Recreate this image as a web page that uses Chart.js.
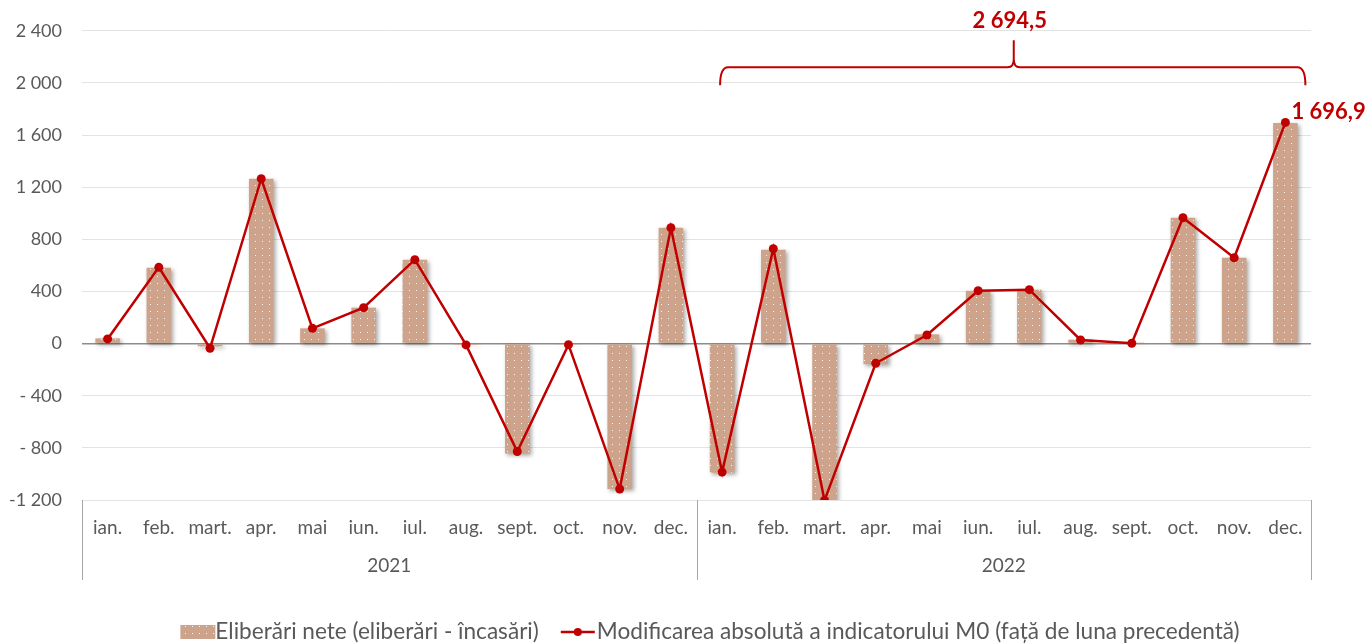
<!DOCTYPE html>
<html>
<head>
<meta charset="utf-8">
<script src="https://cdn.jsdelivr.net/npm/chart.js@4"></script>
<style>
  html, body { margin: 0; padding: 0; background: #fff; }
  #wrap { width: 1366px; height: 644px; }
</style>
</head>
<body>
<div id="wrap"><canvas id="canvas"></canvas></div>
<script>
// luni si ani (axa pe doua nivele)
var months = ['ian.', 'feb.', 'mart.', 'apr.', 'mai', 'iun.', 'iul.', 'aug.', 'sept.', 'oct.', 'nov.', 'dec.'];
var years = ['2021', '2022'];
var labels = months.concat(months);

// eliberari nete (bare)
var netReleases = [40, 582, -22, 1264, 117, 276, 644, -10, -843, -8, -1116, 889,
                   -990, 720, -1210, -158, 71, 406, 414, 30, 8, 966, 659, 1693];
// modificarea absoluta M0 (linie)
var m0Change = [36, 585, -36, 1265, 117, 276, 644, -10, -828, -8, -1116, 889,
                -986, 728, -1203, -151, 66, 406, 414, 28, 3, 966, 659, 1696.9];

var yTicks = [2400, 2000, 1600, 1200, 800, 400, 0, -400, -800, -1200];
var bracketLabel = '2 694,5';
var lastLabel = '1 696,9';
var legendLabels = ['Eliberări nete (eliberări - încasări)', 'Modificarea absolută a indicatorului M0 (față de luna precedentă)'];

var FONT = 'Lato, "Open Sans", sans-serif';
var RED = '#c00000';
var TAN = '#cda48b';
var GREY = '#595959';

// textura cu puncte albe pentru bare
function makePattern() {
    var c = document.createElement('canvas');
    c.width = 7; c.height = 7;
    var g = c.getContext('2d');
    g.fillStyle = TAN;
    g.fillRect(0, 0, 7, 7);
    g.fillStyle = 'rgba(255,255,255,0.9)';
    g.fillRect(3, 3, 1, 1);
    return g.createPattern(c, 'repeat');
}
var pattern = makePattern();

function fmt(v) {
    var s = Math.abs(v).toString().replace(/\B(?=(\d{3})+(?!\d))/g, ' ');
    if (v < 0) return Math.abs(v) >= 1000 ? '-' + s : '- ' + s;
    return s;
}

var extras = {
    id: 'extras',
    beforeDatasetDraw: function(chart, args) {
        if (args.index === 1) {
            var ctx = chart.ctx;
            ctx.save();
            ctx.shadowColor = 'rgba(0,0,0,0.35)';
            ctx.shadowBlur = 4;
            ctx.shadowOffsetX = 2;
            ctx.shadowOffsetY = 2;
        }
    },
    afterDatasetDraw: function(chart, args) {
        if (args.index === 1) chart.ctx.restore();
    },
    afterDraw: function(chart) {
        var ctx = chart.ctx;
        var x = chart.scales.x, y = chart.scales.y;
        var area = chart.chartArea;
        var step = (area.right - area.left) / labels.length;

        // separatoare ani + etichete ani
        ctx.save();
        ctx.strokeStyle = '#a6a6a6';
        ctx.lineWidth = 1;
        for (var i = 0; i <= years.length; i++) {
            var sx = Math.round(area.left + i * 12 * step) + 0.5;
            ctx.beginPath();
            ctx.moveTo(sx, area.bottom);
            ctx.lineTo(sx, area.bottom + 80);
            ctx.stroke();
        }
        ctx.fillStyle = GREY;
        ctx.font = '19px ' + FONT;
        ctx.textAlign = 'center';
        ctx.textBaseline = 'middle';
        for (var j = 0; j < years.length; j++) {
            ctx.fillText(years[j], area.left + (j * 12 + 6) * step, area.bottom + 66);
        }
        ctx.restore();

        // acolada peste 2022
        var bx1 = x.getPixelForValue(12) - 2;
        var bx2 = x.getPixelForValue(23) + 20;
        var by = y.getPixelForValue(2120);
        var mid = (bx1 + bx2) / 2 + 1;
        ctx.save();
        ctx.strokeStyle = RED;
        ctx.lineWidth = 2;
        ctx.beginPath();
        ctx.moveTo(bx1, by + 18);
        ctx.quadraticCurveTo(bx1, by, bx1 + 8, by);
        ctx.lineTo(mid - 6, by);
        ctx.quadraticCurveTo(mid, by, mid, by - 8);
        ctx.lineTo(mid, by - 27);
        ctx.moveTo(mid, by - 8);
        ctx.quadraticCurveTo(mid, by, mid + 6, by);
        ctx.lineTo(bx2 - 8, by);
        ctx.quadraticCurveTo(bx2, by, bx2, by + 18);
        ctx.stroke();

        ctx.fillStyle = RED;
        ctx.font = 'bold 22px ' + FONT;
        ctx.textAlign = 'center';
        ctx.textBaseline = 'middle';
        ctx.fillText(bracketLabel, mid - 4, 21);

        // eticheta ultimului punct
        var last = chart.getDatasetMeta(0).data[23];
        ctx.textAlign = 'left';
        ctx.fillText(lastLabel, last.x + 6, last.y - 11);
        ctx.restore();

        // legenda
        ctx.save();
        ctx.font = '22.6px ' + FONT;
        ctx.textBaseline = 'middle';
        var w1 = ctx.measureText(legendLabels[0]).width;
        var w2 = ctx.measureText(legendLabels[1]).width;
        var total = 35 + w1 + 22 + 36 + w2;
        var lx = 710 - total / 2;
        var ly = 632;
        ctx.fillStyle = pattern;
        ctx.fillRect(lx, ly - 7, 35, 14);
        ctx.fillStyle = GREY;
        ctx.fillText(legendLabels[0], lx + 35, ly);
        var lx2 = lx + 35 + w1 + 22;
        ctx.strokeStyle = RED;
        ctx.lineWidth = 2.5;
        ctx.beginPath();
        ctx.moveTo(lx2, ly);
        ctx.lineTo(lx2 + 34, ly);
        ctx.stroke();
        ctx.fillStyle = RED;
        ctx.beginPath();
        ctx.arc(lx2 + 17, ly, 4, 0, Math.PI * 2);
        ctx.fill();
        ctx.fillStyle = GREY;
        ctx.fillText(legendLabels[1], lx2 + 36, ly);
        ctx.restore();
    }
};

var ctx = document.getElementById('canvas').getContext('2d');
var myChart = new Chart(ctx, {
    type: 'bar',
    data: {
        labels: labels,
        datasets: [{
            type: 'line',
            label: legendLabels[1],
            data: m0Change,
            borderColor: RED,
            backgroundColor: RED,
            borderWidth: 2.5,
            pointRadius: 4.5,
            pointBackgroundColor: RED,
            pointBorderWidth: 0,
            tension: 0,
            order: 0
        }, {
            type: 'bar',
            label: legendLabels[0],
            data: netReleases,
            backgroundColor: pattern,
            borderWidth: 0,
            categoryPercentage: 1,
            barPercentage: 0.48,
            order: 1
        }]
    },
    options: {
        responsive: true,
        maintainAspectRatio: false,
        animation: false,
        layout: { padding: { top: 26, right: 55, bottom: 64, left: 0 } },
        plugins: {
            legend: { display: false },
            tooltip: { enabled: false }
        },
        scales: {
            x: {
                grid: { display: false, drawTicks: false },
                border: { display: false },
                ticks: {
                    color: GREY,
                    font: { family: FONT, size: 19 },
                    padding: 16,
                    maxRotation: 0,
                    autoSkip: false
                },
                afterFit: function(s) { s.height = 80; }
            },
            y: {
                min: -1200,
                max: 2400,
                afterBuildTicks: function(s) {
                    s.ticks = yTicks.map(function(v) { return { value: v }; });
                },
                grid: {
                    drawTicks: false,
                    color: function(c) { return c.tick && c.tick.value === 0 ? '#8c8c8c' : '#e3e3e3'; },
                    lineWidth: function(c) { return c.tick && c.tick.value === 0 ? 1.5 : 1; }
                },
                border: { display: false },
                ticks: {
                    color: GREY,
                    font: { family: FONT, size: 18 },
                    padding: 20,
                    callback: function(v) { return fmt(v); }
                },
                afterFit: function(s) { s.width = 82; }
            }
        }
    },
    plugins: [extras]
});
</script>
</body>
</html>
